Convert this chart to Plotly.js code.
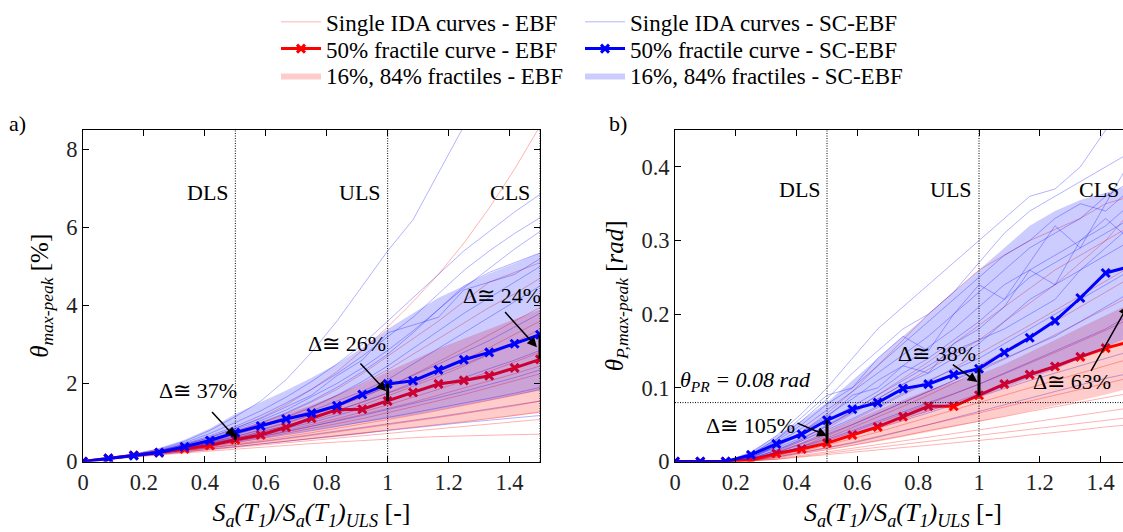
<!DOCTYPE html>
<html>
<head>
<meta charset="utf-8">
<script src="https://cdn.plot.ly/plotly-3.0.1.min.js"></script>
<style>
html,body{margin:0;padding:0;overflow:hidden;background:#fff;}
#chart{width:1140px;height:532px;}
</style>
</head>
<body>
<div id="chart"></div>
<script>
// ---------------- DATA ----------------
const xs = [0, 0.0833, 0.1667, 0.25, 0.3333, 0.4167, 0.5, 0.5833, 0.6667, 0.75, 0.8333, 0.9167, 1.0, 1.0833, 1.1667, 1.25, 1.3333, 1.4167, 1.5];

// Panel a) theta max-peak [%]
const aMedEBF   = [0, 0.08, 0.16, 0.23, 0.32, 0.41, 0.56, 0.68, 0.88, 1.11, 1.33, 1.34, 1.55, 1.77, 1.99, 2.08, 2.20, 2.40, 2.62];
const aMedSC    = [0, 0.08, 0.15, 0.23, 0.38, 0.54, 0.74, 0.91, 1.09, 1.24, 1.43, 1.72, 1.99, 2.07, 2.35, 2.61, 2.80, 3.02, 3.25];
const aP84EBF   = [0, 0.08, 0.17, 0.27, 0.40, 0.56, 0.78, 1.00, 1.22, 1.45, 1.70, 1.98, 2.30, 2.60, 2.90, 3.15, 3.40, 3.65, 3.90];
const aP16EBF   = [0, 0.07, 0.14, 0.20, 0.26, 0.32, 0.38, 0.44, 0.50, 0.56, 0.63, 0.70, 0.80, 0.87, 0.94, 1.01, 1.08, 1.16, 1.25];
const aP84SC    = [0, 0.09, 0.20, 0.35, 0.56, 0.85, 1.22, 1.52, 1.82, 2.15, 2.50, 2.92, 3.40, 3.80, 4.20, 4.50, 4.82, 5.08, 5.35];
const aP16SC    = [0, 0.07, 0.15, 0.22, 0.30, 0.40, 0.50, 0.60, 0.70, 0.80, 0.90, 1.00, 1.10, 1.20, 1.32, 1.45, 1.58, 1.70, 1.82];

const aSingleEBF = [
  [0, 0.08, 0.17, 0.28, 0.43, 0.62, 0.85, 1.12, 1.45, 1.85, 2.30, 2.85, 3.45, 4.10, 4.80, 5.60, 6.50, 7.50, 8.60],
  [0, 0.08, 0.16, 0.27, 0.40, 0.56, 0.76, 0.98, 1.23, 1.52, 1.85, 2.25, 2.70, 3.15, 3.60, 4.10, 4.60, 4.85, 5.10],
  [0, 0.08, 0.16, 0.26, 0.38, 0.53, 0.70, 0.90, 1.12, 1.38, 1.68, 2.00, 2.35, 2.75, 3.15, 3.55, 3.95, 4.30, 4.70],
  [0, 0.08, 0.16, 0.25, 0.36, 0.49, 0.64, 0.80, 0.98, 1.18, 1.40, 1.65, 1.92, 2.22, 2.55, 2.90, 3.25, 3.60, 3.95],
  [0, 0.08, 0.16, 0.25, 0.35, 0.47, 0.60, 0.75, 0.92, 1.10, 1.30, 1.52, 1.76, 2.02, 2.30, 2.60, 2.92, 3.25, 3.60],
  [0, 0.08, 0.16, 0.24, 0.34, 0.45, 0.58, 0.72, 0.88, 1.05, 1.24, 1.45, 1.68, 1.92, 2.18, 2.45, 2.75, 3.05, 3.40],
  [0, 0.08, 0.15, 0.23, 0.32, 0.42, 0.54, 0.67, 0.80, 0.95, 1.10, 1.27, 1.45, 1.65, 1.85, 2.07, 2.30, 2.55, 2.80],
  [0, 0.07, 0.15, 0.23, 0.31, 0.40, 0.51, 0.63, 0.76, 0.90, 1.05, 1.20, 1.36, 1.52, 1.70, 1.88, 2.06, 2.25, 2.45],
  [0, 0.07, 0.15, 0.22, 0.30, 0.39, 0.49, 0.60, 0.72, 0.84, 0.97, 1.10, 1.25, 1.40, 1.56, 1.72, 1.90, 2.08, 2.25],
  [0, 0.07, 0.14, 0.21, 0.28, 0.36, 0.45, 0.54, 0.64, 0.74, 0.85, 0.96, 1.07, 1.19, 1.31, 1.44, 1.57, 1.70, 1.85],
  [0, 0.07, 0.14, 0.20, 0.27, 0.34, 0.42, 0.50, 0.58, 0.67, 0.76, 0.85, 0.94, 1.03, 1.13, 1.23, 1.33, 1.43, 1.55],
  [0, 0.07, 0.13, 0.19, 0.25, 0.31, 0.38, 0.45, 0.52, 0.59, 0.66, 0.73, 0.80, 0.87, 0.94, 1.02, 1.10, 1.18, 1.27],
  [0, 0.06, 0.12, 0.18, 0.24, 0.30, 0.36, 0.42, 0.48, 0.54, 0.60, 0.66, 0.72, 0.78, 0.84, 0.90, 0.96, 1.02, 1.08],
  [0, 0.06, 0.12, 0.17, 0.22, 0.27, 0.32, 0.37, 0.42, 0.46, 0.50, 0.54, 0.58, 0.61, 0.64, 0.66, 0.68, 0.69, 0.70]
];
const aSingleSC = [
  [0, 0.09, 0.19, 0.32, 0.52, 0.80, 1.15, 1.55, 2.10, 2.80, 3.60, 4.50, 5.40, 6.20, 7.40, 8.60, 9.50, 10.3, 11.0],
  [0, 0.08, 0.18, 0.30, 0.48, 0.72, 1.00, 1.30, 1.65, 2.05, 2.50, 3.00, 3.60, 4.20, 4.80, 5.40, 5.90, 6.40, 6.85],
  [0, 0.08, 0.17, 0.28, 0.45, 0.66, 0.90, 1.18, 1.50, 1.85, 2.25, 2.70, 3.20, 3.70, 4.30, 4.90, 5.40, 5.85, 6.25],
  [0, 0.08, 0.17, 0.27, 0.42, 0.60, 0.82, 1.05, 1.32, 1.65, 2.00, 2.40, 2.85, 3.35, 3.90, 4.45, 4.95, 5.45, 5.90],
  [0, 0.08, 0.17, 0.27, 0.40, 0.57, 0.78, 1.00, 1.25, 1.55, 1.90, 2.30, 2.75, 3.30, 3.90, 4.50, 4.85, 5.10, 5.35],
  [0, 0.08, 0.17, 0.28, 0.44, 0.62, 0.85, 1.10, 1.40, 1.70, 2.20, 2.60, 3.30, 3.50, 3.70, 4.40, 4.60, 4.80, 5.20],
  [0, 0.08, 0.16, 0.26, 0.38, 0.53, 0.72, 0.92, 1.15, 1.40, 1.70, 2.05, 2.45, 2.90, 3.35, 3.80, 4.20, 4.60, 5.00],
  [0, 0.08, 0.16, 0.25, 0.36, 0.50, 0.68, 0.88, 1.08, 1.30, 1.55, 1.80, 2.10, 2.50, 2.90, 3.30, 3.70, 4.10, 4.50],
  [0, 0.08, 0.16, 0.24, 0.35, 0.48, 0.64, 0.82, 1.00, 1.20, 1.42, 1.66, 1.92, 2.20, 2.50, 2.80, 3.10, 3.45, 3.80],
  [0, 0.07, 0.15, 0.24, 0.34, 0.46, 0.60, 0.76, 0.92, 1.10, 1.30, 1.52, 1.75, 1.98, 2.25, 2.50, 2.75, 3.00, 3.30],
  [0, 0.07, 0.15, 0.23, 0.32, 0.43, 0.56, 0.70, 0.85, 1.00, 1.18, 1.36, 1.55, 1.75, 1.95, 2.15, 2.38, 2.60, 2.85],
  [0, 0.07, 0.15, 0.22, 0.31, 0.41, 0.52, 0.64, 0.77, 0.90, 1.04, 1.18, 1.33, 1.48, 1.64, 1.80, 1.97, 2.15, 2.35],
  [0, 0.07, 0.14, 0.21, 0.29, 0.38, 0.48, 0.58, 0.68, 0.79, 0.90, 1.01, 1.13, 1.25, 1.38, 1.50, 1.62, 1.75, 1.90],
  [0, 0.07, 0.14, 0.20, 0.27, 0.35, 0.43, 0.51, 0.60, 0.69, 0.78, 0.87, 0.96, 1.05, 1.15, 1.25, 1.35, 1.45, 1.55],
  [0, 0.07, 0.13, 0.19, 0.25, 0.31, 0.38, 0.45, 0.52, 0.59, 0.66, 0.73, 0.80, 0.87, 0.94, 1.00, 1.06, 1.12, 1.18]
];

// Panel b) theta P,max-peak [rad]
const bMedEBF   = [0, 0, 0, 0.002, 0.011, 0.017, 0.025, 0.036, 0.047, 0.061, 0.075, 0.075, 0.090, 0.105, 0.118, 0.129, 0.142, 0.154, 0.163];
const bMedSC    = [0, 0, 0, 0.009, 0.024, 0.037, 0.056, 0.071, 0.080, 0.099, 0.105, 0.118, 0.126, 0.148, 0.168, 0.191, 0.222, 0.256, 0.265];
const bP84EBF   = [0, 0, 0, 0.004, 0.014, 0.026, 0.040, 0.055, 0.070, 0.084, 0.097, 0.108, 0.118, 0.132, 0.148, 0.165, 0.182, 0.198, 0.215];
const bP16EBF   = [0, 0, 0, 0.001, 0.005, 0.010, 0.015, 0.021, 0.027, 0.033, 0.040, 0.047, 0.054, 0.061, 0.068, 0.075, 0.083, 0.091, 0.100];
const bP84SC    = [0, 0, 0, 0.014, 0.035, 0.056, 0.080, 0.110, 0.140, 0.170, 0.200, 0.230, 0.260, 0.290, 0.320, 0.340, 0.355, 0.365, 0.375];
const bP16SC    = [0, 0, 0, 0.003, 0.010, 0.018, 0.028, 0.038, 0.048, 0.058, 0.068, 0.078, 0.088, 0.100, 0.112, 0.125, 0.140, 0.155, 0.170];

const bSingleEBF = [
  [0, 0, 0, 0.006, 0.020, 0.040, 0.065, 0.095, 0.130, 0.165, 0.200, 0.230, 0.260, 0.280, 0.300, 0.315, 0.330, 0.350, 0.360],
  [0, 0, 0, 0.003, 0.013, 0.028, 0.045, 0.065, 0.085, 0.105, 0.125, 0.145, 0.165, 0.190, 0.215, 0.240, 0.270, 0.300, 0.340],
  [0, 0, 0, 0.004, 0.015, 0.030, 0.048, 0.068, 0.090, 0.112, 0.135, 0.160, 0.185, 0.210, 0.235, 0.260, 0.280, 0.300, 0.320],
  [0, 0, 0, 0.003, 0.012, 0.025, 0.040, 0.056, 0.073, 0.090, 0.108, 0.127, 0.146, 0.165, 0.185, 0.205, 0.225, 0.245, 0.265],
  [0, 0, 0, 0.002, 0.010, 0.020, 0.035, 0.050, 0.065, 0.080, 0.094, 0.110, 0.130, 0.150, 0.170, 0.190, 0.210, 0.230, 0.250],
  [0, 0, 0, 0.003, 0.010, 0.020, 0.032, 0.046, 0.060, 0.075, 0.090, 0.106, 0.122, 0.138, 0.155, 0.172, 0.190, 0.208, 0.225],
  [0, 0, 0, 0.002, 0.009, 0.018, 0.028, 0.040, 0.052, 0.065, 0.078, 0.091, 0.105, 0.119, 0.133, 0.148, 0.163, 0.178, 0.195],
  [0, 0, 0, 0.002, 0.008, 0.016, 0.025, 0.035, 0.046, 0.057, 0.068, 0.080, 0.092, 0.104, 0.116, 0.128, 0.140, 0.152, 0.165],
  [0, 0, 0, 0.002, 0.007, 0.014, 0.022, 0.031, 0.040, 0.050, 0.060, 0.070, 0.080, 0.090, 0.100, 0.110, 0.120, 0.130, 0.140],
  [0, 0, 0, 0.001, 0.006, 0.012, 0.019, 0.026, 0.034, 0.042, 0.050, 0.058, 0.066, 0.074, 0.082, 0.090, 0.098, 0.106, 0.114],
  [0, 0, 0, 0.001, 0.005, 0.010, 0.016, 0.022, 0.028, 0.035, 0.042, 0.048, 0.055, 0.061, 0.068, 0.074, 0.080, 0.087, 0.093],
  [0, 0, 0, 0.001, 0.004, 0.008, 0.013, 0.018, 0.023, 0.028, 0.033, 0.038, 0.043, 0.048, 0.053, 0.058, 0.063, 0.068, 0.073],
  [0, 0, 0, 0.001, 0.003, 0.007, 0.011, 0.015, 0.019, 0.023, 0.027, 0.031, 0.035, 0.039, 0.043, 0.047, 0.051, 0.055, 0.060],
  [0, 0, 0, 0.001, 0.003, 0.006, 0.009, 0.012, 0.015, 0.019, 0.022, 0.025, 0.029, 0.032, 0.036, 0.039, 0.043, 0.047, 0.050]
];
const bSingleSC = [
  [0, 0, 0, 0.012, 0.035, 0.065, 0.100, 0.140, 0.180, 0.210, 0.240, 0.270, 0.300, 0.330, 0.360, 0.370, 0.400, 0.450, 0.480],
  [0, 0, 0, 0.010, 0.030, 0.055, 0.085, 0.120, 0.150, 0.180, 0.200, 0.230, 0.270, 0.310, 0.340, 0.360, 0.380, 0.400, 0.420],
  [0, 0, 0, 0.010, 0.030, 0.060, 0.090, 0.100, 0.140, 0.170, 0.150, 0.200, 0.240, 0.220, 0.270, 0.320, 0.290, 0.350, 0.410],
  [0, 0, 0, 0.008, 0.028, 0.050, 0.078, 0.100, 0.130, 0.160, 0.190, 0.220, 0.250, 0.280, 0.300, 0.330, 0.350, 0.340, 0.370],
  [0, 0, 0, 0.008, 0.025, 0.045, 0.070, 0.095, 0.120, 0.145, 0.170, 0.200, 0.230, 0.260, 0.290, 0.310, 0.330, 0.360, 0.380],
  [0, 0, 0, 0.006, 0.022, 0.040, 0.062, 0.085, 0.110, 0.130, 0.155, 0.180, 0.210, 0.240, 0.260, 0.280, 0.300, 0.320, 0.350],
  [0, 0, 0, 0.007, 0.020, 0.040, 0.060, 0.090, 0.100, 0.130, 0.120, 0.160, 0.180, 0.210, 0.260, 0.240, 0.300, 0.330, 0.300],
  [0, 0, 0, 0.005, 0.020, 0.036, 0.055, 0.075, 0.095, 0.120, 0.140, 0.165, 0.190, 0.220, 0.250, 0.270, 0.290, 0.310, 0.330],
  [0, 0, 0, 0.004, 0.016, 0.030, 0.050, 0.068, 0.090, 0.110, 0.130, 0.150, 0.165, 0.180, 0.200, 0.220, 0.260, 0.290, 0.320],
  [0, 0, 0, 0.005, 0.018, 0.032, 0.048, 0.066, 0.085, 0.105, 0.120, 0.140, 0.160, 0.190, 0.220, 0.240, 0.260, 0.280, 0.300],
  [0, 0, 0, 0.004, 0.015, 0.028, 0.043, 0.058, 0.075, 0.092, 0.110, 0.125, 0.140, 0.160, 0.180, 0.200, 0.220, 0.240, 0.260],
  [0, 0, 0, 0.003, 0.012, 0.024, 0.037, 0.050, 0.065, 0.080, 0.095, 0.110, 0.125, 0.140, 0.155, 0.170, 0.190, 0.210, 0.230],
  [0, 0, 0, 0.003, 0.010, 0.020, 0.030, 0.042, 0.055, 0.068, 0.080, 0.092, 0.105, 0.120, 0.135, 0.150, 0.165, 0.180, 0.200],
  [0, 0, 0, 0.002, 0.008, 0.016, 0.025, 0.035, 0.045, 0.055, 0.066, 0.077, 0.088, 0.100, 0.110, 0.120, 0.130, 0.140, 0.150],
  [0, 0, 0, 0.002, 0.006, 0.012, 0.018, 0.025, 0.033, 0.041, 0.050, 0.059, 0.068, 0.077, 0.086, 0.095, 0.104, 0.113, 0.120]
];

// Limit-state levels and labels
const limitX = [0.5, 1.0, 1.5];
const limitLabels = ['DLS', 'ULS', 'CLS'];
const deltaA = ['Δ≅ 37%', 'Δ≅ 26%', 'Δ≅ 24%'];
const deltaB = ['Δ≅ 105%', 'Δ≅ 38%', 'Δ≅ 63%'];
const thetaPR = 0.08;

// Legend text
const names = {
  singleEBF: 'Single IDA curves - EBF', singleSC: 'Single IDA curves - SC-EBF',
  medEBF: '50% fractile curve - EBF',  medSC: '50% fractile curve - SC-EBF',
  bandEBF: '16%, 84% fractiles - EBF', bandSC: '16%, 84% fractiles - SC-EBF'
};

// ---------------- STYLE ----------------
const FONT = 'Liberation Serif';
const RED = 'rgb(255,0,0)', BLUE = 'rgb(0,0,255)';
const RED_THIN = 'rgba(255,0,0,0.3)', BLUE_THIN = 'rgba(0,0,255,0.3)';
const RED_FILL = 'rgba(255,0,0,0.2)', BLUE_FILL = 'rgba(0,0,255,0.2)';

const traces = [];
function addPanel(xa, ya, singleEBF, singleSC, p16E, p84E, medE, p16S, p84S, medS, leg) {
  singleEBF.forEach((c, i) => traces.push({x: xs, y: c, xaxis: xa, yaxis: ya, mode: 'lines',
    line: {color: RED_THIN, width: 1}, name: names.singleEBF, legend: 'legend',
    showlegend: leg && i === 0, hoverinfo: 'skip'}));
  singleSC.forEach((c, i) => traces.push({x: xs, y: c, xaxis: xa, yaxis: ya, mode: 'lines',
    line: {color: BLUE_THIN, width: 1}, name: names.singleSC, legend: 'legend4',
    showlegend: leg && i === 0, hoverinfo: 'skip'}));
  traces.push({x: xs, y: p16E, xaxis: xa, yaxis: ya, mode: 'lines', line: {width: 0, color: RED_FILL},
    showlegend: false, hoverinfo: 'skip'});
  traces.push({x: xs, y: p84E, xaxis: xa, yaxis: ya, mode: 'lines', line: {width: 0, color: RED_FILL},
    fill: 'tonexty', fillcolor: RED_FILL, name: names.bandEBF, legend: 'legend3',
    showlegend: leg, hoverinfo: 'skip'});
  traces.push({x: xs, y: medE, xaxis: xa, yaxis: ya, mode: 'lines+markers', line: {color: RED, width: 3},
    marker: {symbol: 'x-thin-open', size: 8, color: RED, line: {width: 3, color: RED}},
    name: names.medEBF, legend: 'legend2', showlegend: leg});
  traces.push({x: xs, y: p16S, xaxis: xa, yaxis: ya, mode: 'lines', line: {width: 0, color: BLUE_FILL},
    showlegend: false, hoverinfo: 'skip'});
  traces.push({x: xs, y: p84S, xaxis: xa, yaxis: ya, mode: 'lines', line: {width: 0, color: BLUE_FILL},
    fill: 'tonexty', fillcolor: BLUE_FILL, name: names.bandSC, legend: 'legend6',
    showlegend: leg, hoverinfo: 'skip'});
  traces.push({x: xs, y: medS, xaxis: xa, yaxis: ya, mode: 'lines+markers', line: {color: BLUE, width: 3},
    marker: {symbol: 'x-thin-open', size: 8, color: BLUE, line: {width: 3, color: BLUE}},
    name: names.medSC, legend: 'legend5', showlegend: leg});
  limitX.forEach(lx => {
    const k = xs.findIndex(v => Math.abs(v - lx) < 1e-3);
    traces.push({x: [lx, lx], y: [medE[k], medS[k]], xaxis: xa, yaxis: ya, mode: 'lines',
      line: {color: 'black', width: 3}, showlegend: false, hoverinfo: 'skip'});
  });
}
addPanel('x', 'y', aSingleEBF, aSingleSC, aP16EBF, aP84EBF, aMedEBF, aP16SC, aP84SC, aMedSC, true);
addPanel('x2', 'y2', bSingleEBF, bSingleSC, bP16EBF, bP84EBF, bMedEBF, bP16SC, bP84SC, bMedSC, false);

const W = 1140, H = 532;
const axBase = {showline: true, linecolor: 'black', linewidth: 1, mirror: 'ticks', ticks: 'inside',
  ticklen: 6, tickcolor: 'black', showgrid: false, zeroline: false,
  tickfont: {family: FONT, size: 22.5, color: '#222'}};
const xTitle = '<i>S<sub>a</sub>(T<sub>1</sub>)/S<sub>a</sub>(T<sub>1</sub>)<sub>ULS</sub></i> [-]';

const DOTS = '1px,1.5px';
const shapes = [];
['x', 'x2'].forEach((xa, p) => {
  const ya = p === 0 ? 'y' : 'y2';
  limitX.forEach(lx => shapes.push({type: 'line', xref: xa, yref: ya + ' domain', x0: lx, x1: lx, y0: 0, y1: 1,
    line: {color: 'black', width: 1, dash: DOTS}}));
});
shapes.push({type: 'line', xref: 'x2 domain', yref: 'y2', x0: 0, x1: 1, y0: thetaPR, y1: thetaPR,
  line: {color: 'black', width: 1, dash: DOTS}});

const annFont = {family: FONT, size: 22, color: 'black'};
const annotations = [];
const labelShift = [-4, -5, -8];
limitX.forEach((lx, i) => {
  annotations.push({xref: 'x', yref: 'y', x: lx, y: 6.9, text: limitLabels[i], showarrow: false,
    xanchor: 'right', xshift: labelShift[i], font: annFont});
  annotations.push({xref: 'x2', yref: 'y2', x: lx, y: 0.369, text: limitLabels[i], showarrow: false,
    xanchor: 'right', xshift: labelShift[i] - (i === 2 ? 2 : 0), font: annFont});
});
const arrA = [[0.378, 1.82, 0.419, 1.31, 0.50, 0.62], [0.865, 3.02, 0.906, 2.55, 0.995, 1.80], [1.376, 4.26, 1.381, 3.87, 1.49, 2.93]];
arrA.forEach((a, i) => {
  annotations.push({xref: 'x', yref: 'y', x: a[0], y: a[1], text: deltaA[i], showarrow: false, font: annFont});
  annotations.push({xref: 'x', yref: 'y', axref: 'x', ayref: 'y', x: a[4], y: a[5], ax: a[2], ay: a[3], text: '',
    showarrow: true, arrowhead: 2, arrowsize: 1.3, arrowwidth: 1.5, arrowcolor: 'black'});
});
const arrB = [[0.249, 0.049, 0.398, 0.053, 0.50, 0.035], [0.861, 0.146, 0.909, 0.133, 0.995, 0.108], [1.306, 0.108, 1.366, 0.121, 1.49, 0.212]];
arrB.forEach((a, i) => {
  annotations.push({xref: 'x2', yref: 'y2', x: a[0], y: a[1], text: deltaB[i], showarrow: false, font: annFont});
  annotations.push({xref: 'x2', yref: 'y2', axref: 'x2', ayref: 'y2', x: a[4], y: a[5], ax: a[2], ay: a[3], text: '',
    showarrow: true, arrowhead: 2, arrowsize: 1.3, arrowwidth: 1.5, arrowcolor: 'black'});
});
annotations.push({xref: 'x2', yref: 'y2', x: 0.01, y: 0.109, xanchor: 'left', showarrow: false,
  text: '<i>θ<sub>PR</sub> = 0.08 rad</i>', font: annFont});
annotations.push({xref: 'paper', yref: 'paper', x: 7 / W, y: 1 - 120 / H, xanchor: 'left', yanchor: 'middle',
  showarrow: false, text: 'a)', font: annFont});
annotations.push({xref: 'paper', yref: 'paper', x: 607 / W, y: 1 - 120 / H, xanchor: 'left', yanchor: 'middle',
  showarrow: false, text: 'b)', font: annFont});

const yDom = [(H - 461) / H, (H - 127) / H];
const legFont = {family: FONT, size: 23, color: 'black'};
function legendAt(px, py) {
  return {x: px / W, y: 1 - py / H, xanchor: 'left', yanchor: 'middle', orientation: 'v', font: legFont,
    bgcolor: 'rgba(0,0,0,0)', borderwidth: 0, itemwidth: 40};
}
const layout = {
  width: W, height: H, margin: {l: 0, r: 0, t: 0, b: 0},
  paper_bgcolor: 'white', plot_bgcolor: 'white',
  font: {family: FONT, size: 20, color: 'black'},
  xaxis: Object.assign({}, axBase, {domain: [83 / W, 540 / W], range: [0, 1.5], dtick: 0.2, tick0: 0, anchor: 'y',
    title: {text: xTitle, font: {family: FONT, size: 26, color: 'black'}, standoff: 9}}),
  yaxis: Object.assign({}, axBase, {domain: yDom, range: [0, 8.5], dtick: 2, anchor: 'x',
    title: {text: '<i>θ<sub>max-peak</sub></i> [%]', font: {family: FONT, size: 25, color: 'black'}, standoff: 10}}),
  xaxis2: Object.assign({}, axBase, {domain: [675 / W, 1131 / W], range: [0, 1.5], dtick: 0.2, tick0: 0, anchor: 'y2',
    title: {text: xTitle, font: {family: FONT, size: 26, color: 'black'}, standoff: 9}}),
  yaxis2: Object.assign({}, axBase, {domain: yDom, range: [0, 0.45], dtick: 0.1, anchor: 'x2',
    title: {text: '<i>θ<sub>P,max-peak</sub></i> [<i>rad</i>]', font: {family: FONT, size: 25, color: 'black'}, standoff: 10}}),
  legend: legendAt(276, 18), legend2: legendAt(276, 45), legend3: legendAt(276, 72),
  legend4: legendAt(580, 18), legend5: legendAt(580, 45), legend6: legendAt(580, 72),
  shapes: shapes, annotations: annotations
};
Plotly.newPlot('chart', traces, layout, {displayModeBar: false});
</script>
</body>
</html>
